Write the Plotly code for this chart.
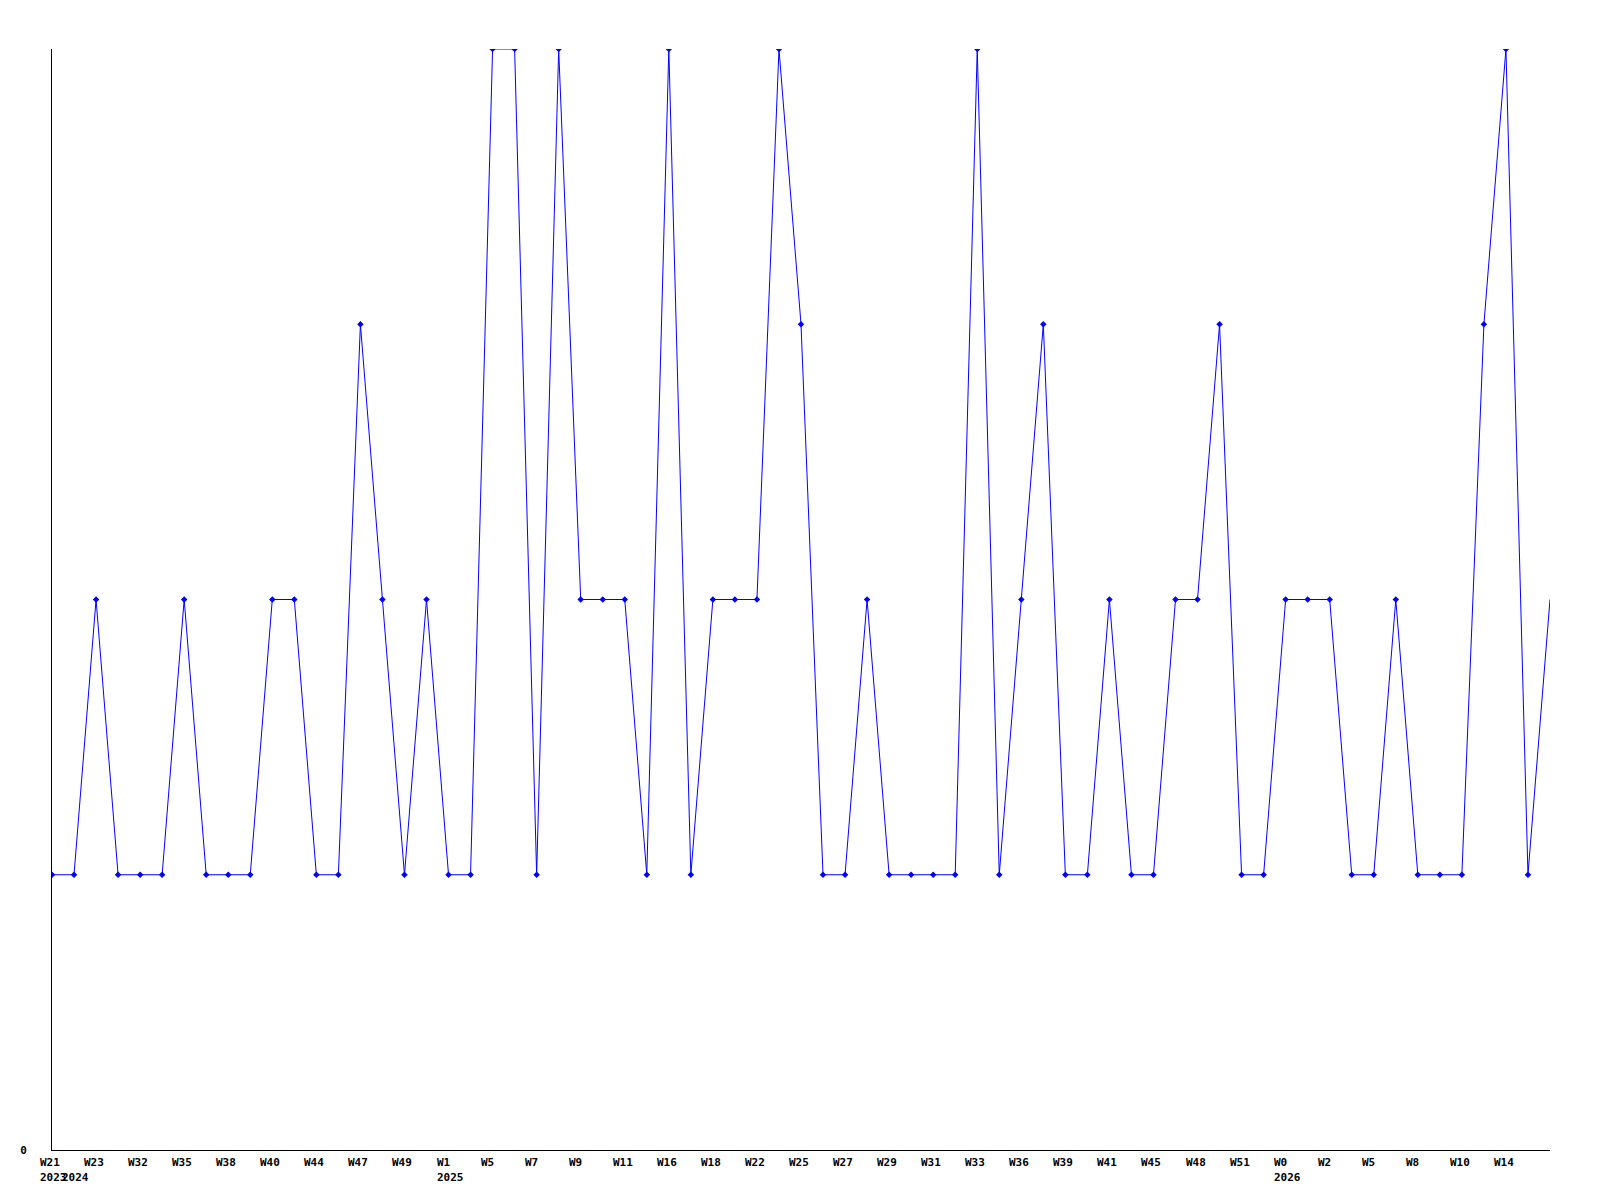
import plotly.graph_objects as go

# Weekly values (one point per week shown on the chart)
values = [1, 1, 2, 1, 1, 1, 2, 1, 1, 1,
          2, 2, 1, 1, 3, 2, 1, 2, 1, 1,
          4, 4, 1, 4, 2, 2, 2, 1, 4, 1,
          2, 2, 2, 4, 3, 1, 1, 2, 1, 1,
          1, 1, 4, 1, 2, 3, 1, 1, 2, 1,
          1, 2, 2, 3, 1, 1, 2, 2, 2, 1,
          1, 2, 1, 1, 1, 3, 4, 1, 2]

# Week tick labels, shown at every second point
week_labels = ["W21", "W23", "W32", "W35", "W38", "W40", "W44", "W47", "W49",
               "W1", "W5", "W7", "W9", "W11", "W16", "W18", "W22", "W25",
               "W27", "W29", "W31", "W33", "W36", "W39", "W41", "W45", "W48",
               "W51", "W0", "W2", "W5", "W8", "W10", "W14"]
week_label_index = list(range(0, 67, 2))

# Year labels and the point index where each year starts
year_labels = ["2023", "2024", "2025", "2026"]
year_index = [0, 1, 18, 56]

x = list(range(len(values)))
BLUE = "#0000ff"
FONT = dict(family="DejaVu Sans Mono", size=11, color="black")

fig = go.Figure()
fig.add_trace(go.Scatter(x=x, y=values, mode="lines",
                         line=dict(color=BLUE, width=1), hoverinfo="skip"))
fig.add_trace(go.Scatter(x=x[:-1], y=values[:-1], mode="markers",
                         marker=dict(symbol="diamond", size=5, color=BLUE,
                                     line=dict(width=0))))

annotations = []
for i, lab in zip(week_label_index, week_labels):
    annotations.append(dict(x=i, y=0, xref="x", yref="paper", text="<b>%s</b>" % lab,
                            showarrow=False, xanchor="left", yanchor="top",
                            xshift=-14, yshift=-4, font=FONT))
for i, lab in zip(year_index, year_labels):
    annotations.append(dict(x=i, y=0, xref="x", yref="paper", text="<b>%s</b>" % lab,
                            showarrow=False, xanchor="left", yanchor="top",
                            xshift=-14, yshift=-19, font=FONT))

fig.update_layout(
    width=1600, height=1200,
    margin=dict(l=42, r=58, t=41, b=58),
    paper_bgcolor="white", plot_bgcolor="white",
    showlegend=False,
    annotations=annotations,
    xaxis=dict(range=[0, len(values) - 1], showgrid=False, zeroline=False,
               showline=True, linecolor="black", linewidth=1,
               showticklabels=False, ticks=""),
    yaxis=dict(range=[0, 4], showgrid=False, zeroline=False,
               showline=True, linecolor="black", linewidth=1,
               tickvals=[0], ticktext=["<b>0</b>"], ticks="",
               ticklabelstandoff=22, tickfont=FONT),
)

fig.write_html("out.html")
